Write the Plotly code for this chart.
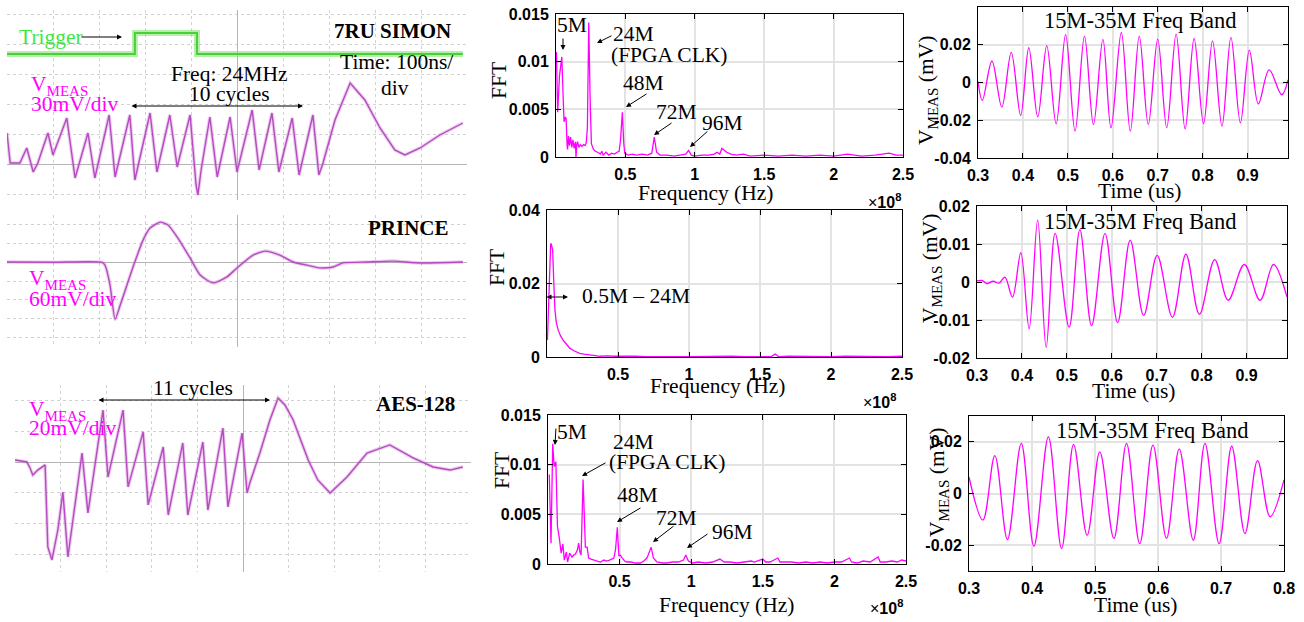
import plotly.graph_objects as go

W, H = 1304, 622
SERIF = "Liberation Serif, Times New Roman, serif"
SANS = "Liberation Sans, Arial, sans-serif"
MAG = "#ff00ff"
SCOPE_COL = "#b44cbf"

# ---------------- Scope traces (time in ns, voltage in mV) ----------------
simon_trig_t = [-500, -222, -222, -87, -87, 491]
simon_trig_v = [0, 0, 1, 1, 0, 0]

simon_t = [-500, -493, -472, -457, -443, -433, -411, -400, -370, -352, -324, -309, -278, -265,
           -233, -222, -189, -174, -146, -130, -102, -89, -85, -78, -59, -43, -15, 0, 33, 48,
           76, 91, 120, 135, 165, 178, 187, 213, 246, 278, 311, 343, 365, 398, 441, 491]
simon_v = [31, 1, 1, 16, -8, 1, 31, 9, 46, -14, 31, -14, 49, -13,
           49, -16, 51, -8, 49, -3, 49, -21, -31, -6, 47, -13, 47, -8, 54, -6,
           51, -8, 46, -11, 49, -11, 1, 44, 81, 64, 36, 14, 9, 16, 29, 41]

prince_t = [-500, -400, -293, -287, -276, -265, -254, -226, -204, -189, -167, -150, -130, -102,
            -80, -52, -22, 0, 35, 61, 93, 122, 152, 180, 209, 230, 283, 339, 398, 491]
prince_v = [1, 0, 0, -9, -73, -183, -138, -15, 72, 110, 129, 120, 81, 14,
            -41, -66, -47, -18, 23, 36, 23, 1, -9, -18, -15, -2, 1, 4, -2, 1]

aes_t = [-500, -474, -467, -461, -450, -439, -434, -428, -419, -406, -395, -384, -353, -340,
         -307, -296, -263, -252, -219, -208, -175, -164, -132, -121, -88, -77, -44, -33, -2, 9,
         15, 37, 59, 77, 92, 110, 143, 164, 191, 228, 272, 322, 373, 417, 454, 482]
aes_v = [1.3, 0, -3.9, -8.4, -5.2, -3.2, -1.9, -54.8, -63.2, -43.9, -19.4, -61.3, 5.8, -32.9,
         33.5, -9.7, 33.5, -16.1, 19.4, -27.7, 9.7, -34.2, 12.3, -34.2, 12.9, -31.0, 21.9, -29.0, 18.7, -20.0,
         -13.5, 5.8, 27.1, 41.3, 36.8, 27.1, 1.3, -11.6, -20.0, -9.7, 5.8, 11.0, 2.6, -3.2, -5.2, -3.2]

# ---------------- FFT spectra (frequency in MHz) ----------------
fft1_f = [0.3, 1.2, 2.5, 4.2, 5.2, 5.8, 6.8, 7.3, 8.0, 8.3, 9.0, 9.7, 10.5, 11.4, 12.2, 13.1, 14.0, 14.4,
          15.0, 15.5, 16.5, 17.5, 18.7, 19.9, 21.0, 21.8, 22.6, 23.6, 24.6, 25.5, 27, 28.4, 30, 32, 33,
          34, 36, 38, 40, 42, 44, 45.5, 46.5, 47.8, 48.8, 49.5, 52, 55, 58, 62, 66, 69, 70.8, 72.5, 75,
          80, 85, 90, 93.5, 95.5, 97.5, 100, 105, 110, 114, 116, 118, 119.5, 121, 123, 126, 130, 135,
          140, 150, 160, 170, 180, 190, 200, 210, 220, 230, 240, 245, 250]
fft1_v = [0.0110, 0.0047, 0.0085, 0.0105, 0.0060, 0.0037, 0.0042, 0.0040, 0.0012, 0.0008, 0.0022, 0.0012,
          0.0021, 0.0010, 0.0018, 0.0009, 0.0016, 0.0000, 0.0013, 0.0016, 0.0010, 0.0013, 0.0011, 0.0013,
          0.0012, 0.0015, 0.0030, 0.0141, 0.0060, 0.0014, 0.0008, 0.0006, 0.0005, 0.0003, 0.0006, 0.0002,
          0.0005, 0.0002, 0.0004, 0.0003, 0.0005, 0.0006, 0.0018, 0.0047, 0.0015, 0.0004, 0.0002, 0.0003,
          0.0002, 0.0003, 0.0002, 0.0004, 0.0021, 0.0005, 0.0002, 0.0002, 0.0001, 0.0002, 0.0003, 0.0007,
          0.0002, 0.0001, 0.0002, 0.0002, 0.0003, 0.0005, 0.0003, 0.0009, 0.0007, 0.0005, 0.0003, 0.0002,
          0.0003, 0.0001, 0.0002, 0.0001, 0.0002, 0.0001, 0.0002, 0.0001, 0.0003, 0.0001, 0.0002, 0.0004,
          0.0002, 0.0002]

fft2_f = [0.3, 1.2, 2.0, 2.6, 3.2, 4.0, 4.8, 5.6, 6.5, 7.9, 9.5, 11.3, 13.5, 16, 19, 23, 26, 30, 34, 37,
          42, 48, 55, 62, 70, 80, 90, 100, 110, 120, 130, 140, 150, 158, 160.6, 163, 170, 180, 190, 200,
          210, 220, 230, 240, 250]
fft2_v = [0.0046, 0.0150, 0.0270, 0.0309, 0.0305, 0.0291, 0.0200, 0.0128, 0.0095, 0.0073, 0.0058, 0.0046,
          0.0036, 0.0024, 0.0017, 0.0010, 0.0008, 0.0007, 0.0004, 0.0002, 0.0003, 0.0002, 0.0001, 0.0002,
          0.0001, 0.0002, 0.0001, 0.0001, 0.0002, 0.0001, 0.0002, 0.0001, 0.0002, 0.0001, 0.0008, 0.0001,
          0.0002, 0.0001, 0.0002, 0.0001, 0.0002, 0.0001, 0.0002, 0.0001, 0.0002]

fft3_f = [0.9, 2.1, 3.3, 4.3, 5.5, 6.6, 7.8, 9.2, 10.4, 11.4, 12.8, 13.7, 15.1, 16.8, 18, 19.1, 20.5, 21.4,
          22.3, 23.1, 24.5, 25.3, 26.1, 27.3, 28.4, 30, 32, 34, 36.6, 39, 41, 43, 45, 46, 47.2, 48.4, 49.5,
          50.5, 51.9, 53.5, 55, 58, 61, 64.5, 67, 69, 70, 72, 73.6, 76, 80, 83, 87, 91, 94.6, 96.2, 98,
          101, 105, 110, 115, 120, 123, 127, 132, 138, 142, 144, 146, 150, 152, 155, 160.5, 162, 165, 170,
          175, 180, 185, 190, 195, 200, 205, 210.5, 212, 216, 220, 225, 230.5, 232, 236, 240, 244, 247, 250]
fft3_v = [0.0090, 0.0021, 0.0121, 0.0098, 0.0103, 0.0038, 0.0027, 0.0011, 0.0020, 0.0004, 0.0012, 0.0002,
          0.0011, 0.0007, 0.0009, 0.0010, 0.0014, 0.0021, 0.0012, 0.0009, 0.0085, 0.0040, 0.0017, 0.0017,
          0.0006, 0.0005, 0.0004, 0.0003, 0.0002, 0.0004, 0.0003, 0.0004, 0.0005, 0.0006, 0.0015, 0.0037,
          0.0008, 0.0009, 0.0006, 0.0003, 0.0002, 0.0002, 0.0001, 0.0001, 0.0003, 0.0006, 0.0009, 0.0017,
          0.0006, 0.0002, 0.0001, 0.0001, 0.0002, 0.0002, 0.0004, 0.0009, 0.0003, 0.0001, 0.0002, 0.0001,
          0.0002, 0.0005, 0.0002, 0.0002, 0.0001, 0.0002, 0.0003, 0.0002, 0.0003, 0.0005, 0.0002, 0.0002,
          0.0006, 0.0002, 0.0002, 0.0002, 0.0001, 0.0002, 0.0001, 0.0002, 0.0001, 0.0002, 0.0002, 0.0006,
          0.0002, 0.0001, 0.0003, 0.0002, 0.0007, 0.0002, 0.0002, 0.0003, 0.0002, 0.0004, 0.0003]

# ---------------- Band-filtered signals (time in us, V in mV) ----------------
band1_t = [0.300, 0.3096, 0.331, 0.353, 0.374, 0.395, 0.413, 0.433, 0.453, 0.474, 0.495, 0.516, 0.537,
           0.557, 0.578, 0.596, 0.619, 0.639, 0.659, 0.679, 0.700, 0.720, 0.741, 0.761, 0.781, 0.802,
           0.822, 0.843, 0.863, 0.884, 0.904, 0.924, 0.948, 0.976, 0.990]
band1_v = [0.0005, -0.0095, 0.0114, -0.0130, 0.0160, -0.0175, 0.0184, -0.0182, 0.0195, -0.0219, 0.0253,
           -0.0258, 0.0246, -0.0223, 0.0228, -0.0240, 0.0265, -0.0258, 0.0246, -0.0223, 0.0230, -0.0240,
           0.0256, -0.0246, 0.0233, -0.0218, 0.0221, -0.0232, 0.0239, -0.0214, 0.0172, -0.0114, 0.0067,
           -0.0065, 0.0014]

band2_t = [0.300, 0.311, 0.3225, 0.336, 0.349, 0.362, 0.379, 0.3975, 0.416, 0.435, 0.454, 0.474, 0.505,
           0.529, 0.555, 0.585, 0.613, 0.641, 0.671, 0.701, 0.735, 0.765, 0.795, 0.829, 0.859, 0.895,
           0.930, 0.960, 0.990]
band2_v = [0.0003, 0.0004, -0.0004, 0.0002, -0.0003, 0.0013, -0.0040, 0.0077, -0.0123, 0.0163, -0.0172,
           0.0128, -0.0119, 0.0138, -0.0115, 0.0128, -0.0107, 0.0110, -0.0088, 0.0070, -0.0093, 0.0073,
           -0.0085, 0.0059, -0.0048, 0.0046, -0.0048, 0.0046, -0.0040]

band3_t = [0.300, 0.322, 0.341, 0.361, 0.383, 0.403, 0.426, 0.447, 0.466, 0.4875, 0.5076, 0.530, 0.550,
           0.571, 0.592, 0.6135, 0.6337, 0.656, 0.6745, 0.697, 0.717, 0.738, 0.758, 0.778, 0.800]
band3_v = [0.0064, -0.0103, 0.0147, -0.0178, 0.0194, -0.0204, 0.0219, -0.0213, 0.0190, -0.0162, 0.0161,
           -0.0174, 0.0194, -0.0194, 0.0187, -0.0174, 0.0173, -0.0181, 0.0194, -0.0194, 0.0183, -0.0155,
           0.0127, -0.0090, 0.0053]

fft_tickvals = [50, 100, 150, 200, 250]
fft_ticktext = ["0.5", "1", "1.5", "2", "2.5"]


def xdom(a, b):
    return [a / W, b / W]


def ydom(a, b):
    return [1 - b / H, 1 - a / H]


fig = go.Figure()
# trigger channel: soft halo + core
fig.add_trace(go.Scatter(x=simon_trig_t, y=simon_trig_v, xaxis="x", yaxis="y10", mode="lines",
                         line=dict(color="rgba(120,225,100,0.55)", width=6)))
fig.add_trace(go.Scatter(x=simon_trig_t, y=simon_trig_v, xaxis="x", yaxis="y10", mode="lines",
                         line=dict(color="#49cf3a", width=2)))
scope_sets = [(simon_t, simon_v, "x", "y", "linear"), (prince_t, prince_v, "x2", "y2", "spline"),
              (aes_t, aes_v, "x3", "y3", "linear")]
for t, v, xa, ya, shp in scope_sets:
    fig.add_trace(go.Scatter(x=t, y=v, xaxis=xa, yaxis=ya, mode="lines",
                             line=dict(color="rgba(200,110,210,0.35)", width=3.5, shape=shp, smoothing=0.6)))
    fig.add_trace(go.Scatter(x=t, y=v, xaxis=xa, yaxis=ya, mode="lines",
                             line=dict(color=SCOPE_COL, width=1.4, shape=shp, smoothing=0.6)))
fig.add_trace(go.Scatter(x=fft1_f, y=fft1_v, xaxis="x4", yaxis="y4", mode="lines",
                         line=dict(color=MAG, width=1.3)))
fig.add_trace(go.Scatter(x=fft2_f, y=fft2_v, xaxis="x5", yaxis="y5", mode="lines",
                         line=dict(color=MAG, width=1.3)))
fig.add_trace(go.Scatter(x=fft3_f, y=fft3_v, xaxis="x6", yaxis="y6", mode="lines",
                         line=dict(color=MAG, width=1.3)))
fig.add_trace(go.Scatter(x=band1_t, y=band1_v, xaxis="x7", yaxis="y7", mode="lines",
                         line=dict(color=MAG, width=1.3, shape="spline")))
fig.add_trace(go.Scatter(x=band2_t, y=band2_v, xaxis="x8", yaxis="y8", mode="lines",
                         line=dict(color=MAG, width=1.3, shape="spline")))
fig.add_trace(go.Scatter(x=band3_t, y=band3_v, xaxis="x9", yaxis="y9", mode="lines",
                         line=dict(color=MAG, width=1.3, shape="spline")))

TICKFONT = dict(family=SANS, size=16, color="black", weight="bold")


def bold(lst):
    return ["<b>%s</b>" % s for s in lst]


def scope_x(dom):
    return dict(domain=dom, range=[-500, 500], dtick=100, tick0=0, showgrid=True,
                gridcolor="#d2d2d2", griddash="dot", gridwidth=1, zeroline=True,
                zerolinecolor="#b5b5b5", zerolinewidth=1, showticklabels=False,
                showline=False, ticks="", automargin=False)


def scope_y(dom, rng, dt, anchor):
    return dict(domain=dom, range=rng, dtick=dt, tick0=0, showgrid=True, anchor=anchor,
                gridcolor="#d2d2d2", griddash="dot", gridwidth=1, zeroline=True,
                zerolinecolor="#b5b5b5", zerolinewidth=1, showticklabels=False,
                showline=False, ticks="", automargin=False)


def mat_axis(dom, rng, tv, tt, anchor):
    return dict(domain=dom, range=rng, tickvals=tv, ticktext=bold(tt), anchor=anchor,
                showgrid=True, gridcolor="#e3e3e3", gridwidth=1.5, zeroline=False,
                showline=True, linecolor="black", linewidth=1, mirror="allticks",
                ticks="inside", ticklen=5, tickcolor="black", tickfont=TICKFONT,
                ticklabelstandoff=3, automargin=False)


layout = dict(
    width=W, height=H, margin=dict(l=0, r=0, t=0, b=0, pad=0, autoexpand=False), autosize=False,
    paper_bgcolor="white", plot_bgcolor="white", showlegend=False,
    xaxis=scope_x(xdom(7, 467)),
    yaxis=scope_y(ydom(10, 200), [-36, 154], 30, "x"),
    yaxis10=dict(overlaying="y", anchor="x", range=[-6.95, 2.095], visible=False, automargin=False),
    xaxis2=dict(scope_x(xdom(7, 467)), anchor="y2"),
    yaxis2=scope_y(ydom(215, 347), [-272, 152], 60, "x2"),
    xaxis3=dict(scope_x(xdom(15, 471)), anchor="y3"),
    yaxis3=scope_y(ydom(385, 572), [-71, 49.7], 20, "x3"),
    xaxis4=mat_axis(xdom(556, 903), [0, 250], fft_tickvals, fft_ticktext, "y4"),
    yaxis4=mat_axis(ydom(14, 157), [0, 0.015], [0, 0.005, 0.01, 0.015], ["0", "0.005", "0.01", "0.015"], "x4"),
    xaxis5=mat_axis(xdom(547, 902), [0, 250], fft_tickvals, fft_ticktext, "y5"),
    yaxis5=mat_axis(ydom(210, 357), [0, 0.04], [0, 0.02, 0.04], ["0", "0.02", "0.04"], "x5"),
    xaxis6=mat_axis(xdom(548, 906), [0, 250], fft_tickvals, fft_ticktext, "y6"),
    yaxis6=mat_axis(ydom(415, 564), [0, 0.015], [0, 0.005, 0.01, 0.015], ["0", "0.005", "0.01", "0.015"], "x6"),
    xaxis7=mat_axis(xdom(978, 1288), [0.3, 0.99], [0.3, 0.4, 0.5, 0.6, 0.7, 0.8, 0.9],
                    ["0.3", "0.4", "0.5", "0.6", "0.7", "0.8", "0.9"], "y7"),
    yaxis7=mat_axis(ydom(7, 158), [-0.04, 0.04], [-0.04, -0.02, 0, 0.02, 0.04],
                    ["-0.04", "-0.02", "0", "0.02", "0.04"], "x7"),
    xaxis8=mat_axis(xdom(977, 1287), [0.3, 0.99], [0.3, 0.4, 0.5, 0.6, 0.7, 0.8, 0.9],
                    ["0.3", "0.4", "0.5", "0.6", "0.7", "0.8", "0.9"], "y8"),
    yaxis8=mat_axis(ydom(206, 358), [-0.02, 0.02], [-0.02, -0.01, 0, 0.01, 0.02],
                    ["-0.02", "-0.01", "0", "0.01", "0.02"], "x8"),
    xaxis9=mat_axis(xdom(969, 1284), [0.3, 0.8], [0.3, 0.4, 0.5, 0.6, 0.7, 0.8],
                    ["0.3", "0.4", "0.5", "0.6", "0.7", "0.8"], "y9"),
    yaxis9=mat_axis(ydom(416, 571), [-0.03, 0.03], [-0.02, 0, 0.02], ["-0.02", "0", "0.02"], "x9"),
)
fig.update_layout(**layout)

ann = []
FS = 21.5


def text(x, y, s, size=FS, color="black", family=SERIF, angle=0, xanchor="center"):
    ann.append(dict(x=x / W, y=1 - y / H, xref="paper", yref="paper", text=s, showarrow=False,
                    font=dict(family=family, size=size, color=color), xanchor=xanchor,
                    yanchor="middle", textangle=angle))


def arrow(tx, ty, hx, hy, both=False):
    ann.append(dict(x=hx / W, y=1 - hy / H, xref="paper", yref="paper", ax=tx - hx, ay=ty - hy,
                    axref="pixel", ayref="pixel", text="", showarrow=True, arrowhead=2,
                    arrowsize=1, arrowwidth=1, arrowcolor="black",
                    arrowside="end+start" if both else "end", startarrowhead=2,
                    startarrowsize=1, standoff=0, startstandoff=0))


# scope panel texts
text(17, 37, "Trigger", color="#3ee83e", xanchor="left")
arrow(80, 37, 122, 37)
text(392, 31, "<b>7RU SIMON</b>", size=21)
text(396, 62, "Time: 100ns/")
text(395, 88, "div")
text(229, 74, "Freq: 24MHz")
text(229, 94, "10 cycles")
arrow(130, 106, 303, 106, both=True)
text(29, 86, "V<sub>MEAS</sub>", color=MAG, xanchor="left")
text(29, 104, "30mV/div", color=MAG, xanchor="left")

text(408, 228, "<b>PRINCE</b>", size=21)
text(27, 280, "V<sub>MEAS</sub>", color=MAG, xanchor="left")
text(27, 299, "60mV/div", color=MAG, xanchor="left")

text(193, 388, "11 cycles")
arrow(97, 400, 270, 400, both=True)
text(415, 404, "<b>AES-128</b>", size=21)
text(27, 410, "V<sub>MEAS</sub>", color=MAG, xanchor="left")
text(27, 428, "20mV/div", color=MAG, xanchor="left")

# FFT panels
text(499, 81, "FFT", angle=-90)
text(497, 268, "FFT", angle=-90)
text(502, 471, "FFT", angle=-90)
text(706, 193, "Frequency (Hz)")
text(718, 386, "Frequency (Hz)")
text(727, 605, "Frequency (Hz)")
text(884, 201, "×<b>10<sup>8</sup></b>", size=16, family=SANS)
text(879, 401, "×<b>10<sup>8</sup></b>", size=16, family=SANS)
text(886, 607, "×<b>10<sup>8</sup></b>", size=16, family=SANS)

text(572, 25, "5M")
arrow(563, 37, 563, 50)
text(633, 34, "24M")
text(669, 55, "(FPGA CLK)")
arrow(613, 35, 597, 43)
text(643, 83, "48M")
arrow(648, 93, 626, 107)
text(677, 112, "72M")
arrow(673, 122, 654, 135)
text(722, 123, "96M")
arrow(709, 130, 690, 147)

arrow(545, 297, 568, 297, both=True)
text(636, 296, "0.5M – 24M")

text(572, 432, "5M")
arrow(556, 427, 555, 445)
text(633, 442, "24M")
text(667, 462, "(FPGA CLK)")
arrow(607, 462, 582, 476)
text(637, 495, "48M")
arrow(642, 507, 617, 522)
text(677, 518, "72M")
arrow(675, 525, 653, 542)
text(732, 532, "96M")
arrow(709, 533, 687, 548)

# right panels
for (cx, cy) in [(1140, 21), (1140, 221), (1152, 430)]:
    text(cx, cy, "15M-35M Freq Band", size=22.5)
text(927, 90, "V<sub>MEAS</sub> (mV)", angle=-90)
text(931, 269, "V<sub>MEAS</sub> (mV)", angle=-90)
text(938, 482, "V<sub>MEAS</sub> (mV)", angle=-90)
text(1139, 191, "Time (us)")
text(1133, 391, "Time (us)")
text(1135, 605, "Time (us)")

fig.update_layout(annotations=ann)
fig.write_html("out.html", config={"responsive": False},
               post_script="document.body.style.margin='0';document.body.style.overflow='hidden';")
